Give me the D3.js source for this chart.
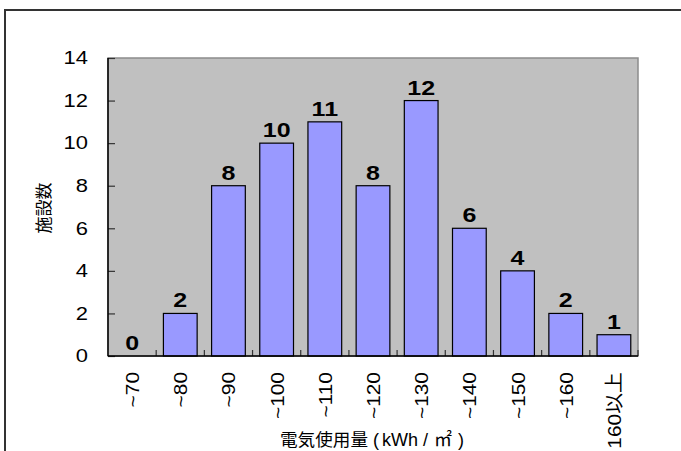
<!DOCTYPE html>
<html>
<head>
<meta charset="utf-8">
<script src="https://cdn.jsdelivr.net/npm/d3@7"></script>
<style>
  html, body { margin: 0; padding: 0; background: #fff; }
  svg { display: block; }
  text { font-family: "Liberation Sans", Arial, "Noto Sans CJK JP", sans-serif; }
</style>
</head>
<body>
<svg id="chart" width="681" height="451"></svg>
<script>
// Number of facilities by electricity use band (kWh/㎡)
const categories = ["~70", "~80", "~90", "~100", "~110", "~120", "~130", "~140", "~150", "~160", "160以上"];
const counts = [0, 2, 8, 10, 11, 8, 12, 6, 4, 2, 1];
const yTicks = [0, 2, 4, 6, 8, 10, 12, 14];
const yTitle = "施設数";
const xTitleParts = ["電気使用量", "(", "kWh", "/", "㎡", ")"];

const svg = d3.select("#chart");
const plot = { left: 108, top: 58, right: 638, bottom: 356 };

// Outer frame
svg.append("rect")
  .attr("x", 5).attr("y", 10)
  .attr("width", 700).attr("height", 500)
  .attr("fill", "#fff")
  .attr("stroke", "#333").attr("stroke-width", 2);

const x = d3.scaleBand().domain(categories).range([plot.left, plot.right]).paddingInner(0).paddingOuter(0);
const y = d3.scaleLinear().domain([0, 14]).range([plot.bottom, plot.top]);

// Plot background
svg.append("rect")
  .attr("x", plot.left).attr("y", plot.top)
  .attr("width", plot.right - plot.left).attr("height", plot.bottom - plot.top)
  .attr("fill", "#c0c0c0")
  .attr("stroke", "#8c8c8c").attr("stroke-width", 1.5);

// Bars
const barW = x.bandwidth() * 0.7;
svg.append("g").selectAll("rect")
  .data(counts)
  .join("rect")
  .attr("x", (d, i) => x(categories[i]) + (x.bandwidth() - barW) / 2)
  .attr("y", d => y(d))
  .attr("width", barW)
  .attr("height", d => y(0) - y(d))
  .attr("fill", "#9999ff")
  .attr("stroke", "#000").attr("stroke-width", 1.2);

// Value labels (wide bold digits)
svg.append("g").selectAll("text")
  .data(counts)
  .join("text")
  .attr("transform", (d, i) => `translate(${x(categories[i]) + x.bandwidth() / 2},${y(d) - 6}) scale(1.25,1)`)
  .attr("text-anchor", "middle")
  .attr("font-size", 20)
  .attr("font-weight", "bold")
  .attr("fill", "#000")
  .text(d => d);

// Y axis
const yAxis = svg.append("g")
  .attr("transform", `translate(${plot.left},0)`)
  .call(d3.axisRight(y).tickValues(yTicks).tickSize(7).tickFormat(() => ""));
yAxis.select(".domain").remove();
yAxis.selectAll(".tick line").attr("stroke", "#333").attr("stroke-width", 1.2);
svg.append("line")
  .attr("x1", plot.left).attr("x2", plot.left)
  .attr("y1", plot.top).attr("y2", plot.bottom)
  .attr("stroke", "#000").attr("stroke-width", 1.5);

svg.append("g").selectAll("text")
  .data(yTicks)
  .join("text")
  .attr("transform", d => `translate(88,${y(d)}) scale(1.22,1)`)
  .attr("dy", "0.35em")
  .attr("text-anchor", "end")
  .attr("font-size", 18)
  .attr("fill", "#000")
  .text(d => d);

// X axis with boundary ticks pointing up
const bounds = categories.map(c => x(c)).concat([plot.right]);
svg.append("g").selectAll("line")
  .data(bounds)
  .join("line")
  .attr("x1", d => d).attr("x2", d => d)
  .attr("y1", plot.bottom).attr("y2", plot.bottom - 6)
  .attr("stroke", "#333").attr("stroke-width", 1.2);
svg.append("line")
  .attr("x1", plot.left).attr("x2", plot.right)
  .attr("y1", plot.bottom).attr("y2", plot.bottom)
  .attr("stroke", "#000").attr("stroke-width", 1.5);

svg.append("g").selectAll("text")
  .data(categories)
  .join("text")
  .attr("transform", c => `translate(${x(c) + x.bandwidth() / 2 + 7},372) rotate(-90) scale(1.1,1)`)
  .attr("text-anchor", "end")
  .attr("font-size", 19)
  .attr("fill", "#000")
  .text(c => c);

// Axis titles
svg.append("text")
  .attr("transform", "translate(50,208) rotate(-90)")
  .attr("text-anchor", "middle")
  .attr("font-size", 17)
  .attr("fill", "#000")
  .text(yTitle);

const xTitle = svg.append("text")
  .attr("y", 446)
  .attr("font-size", 17)
  .attr("fill", "#000");
const titleX = [280, 373, 382, 423, 434, 458];
xTitle.selectAll("tspan")
  .data(xTitleParts)
  .join("tspan")
  .attr("x", (d, i) => titleX[i])
  .attr("font-size", (d, i) => i === 0 ? 17.6 : 18)
  .text(d => d);
</script>
</body>
</html>
